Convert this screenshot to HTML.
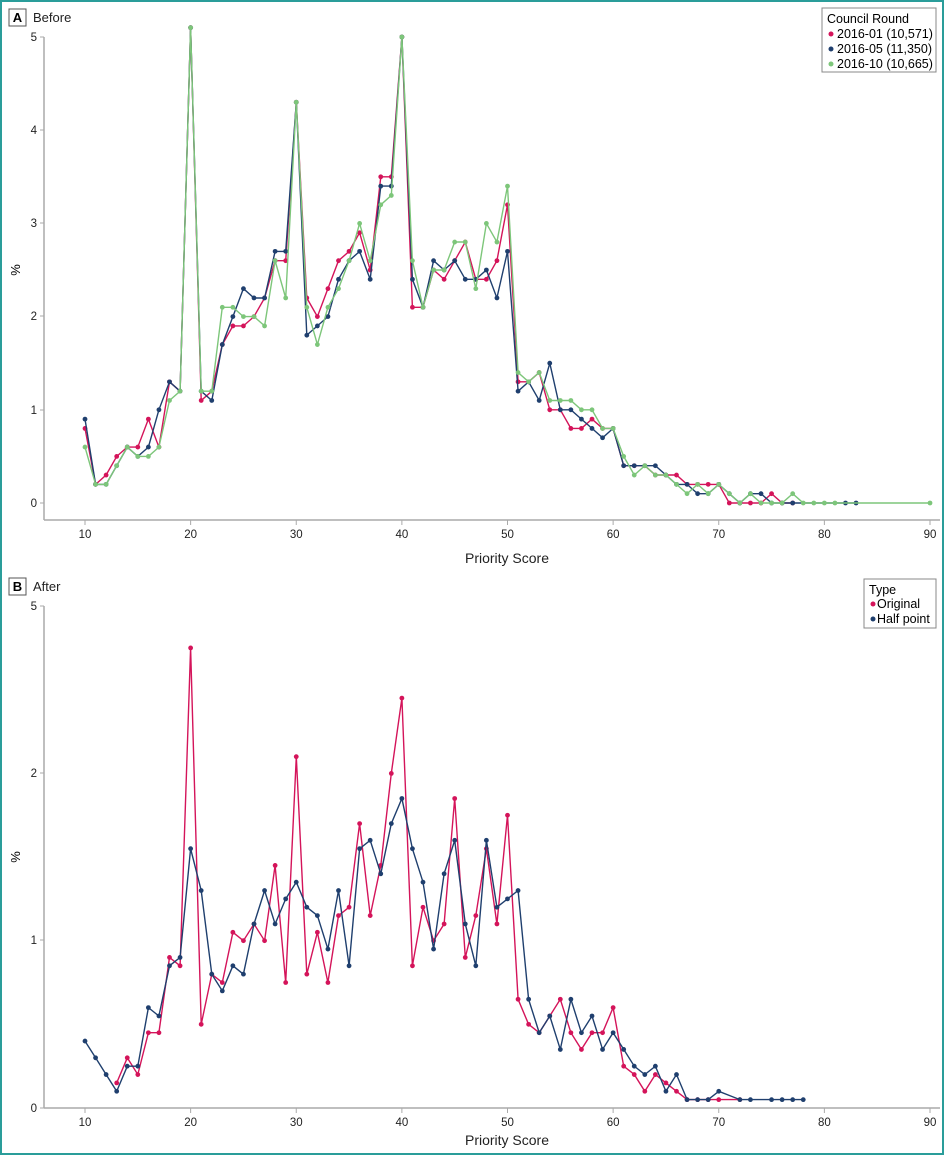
<!DOCTYPE html><html><head><style>
body{margin:0;background:#fff}
svg{display:block;font-family:"Liberation Sans",sans-serif}
</style></head><body>
<svg id="s" width="944" height="1155" viewBox="0 0 944 1155" xmlns="http://www.w3.org/2000/svg">
<rect x="1" y="1" width="942" height="1153" fill="#fff" stroke="#2a9d9a" stroke-width="2"/>
<rect x="9" y="9" width="17" height="17" fill="#fff" stroke="#555"/>
<text x="17.5" y="22" font-size="13" font-weight="bold" text-anchor="middle">A</text>
<text x="33" y="22" font-size="13" fill="#222">Before</text>
<rect x="9" y="578" width="17" height="17" fill="#fff" stroke="#555"/>
<text x="17.5" y="591" font-size="13" font-weight="bold" text-anchor="middle">B</text>
<text x="33" y="591" font-size="13" fill="#222">After</text>
<text x="507" y="563" font-size="14" text-anchor="middle" fill="#222">Priority Score</text>
<text x="507" y="1145" font-size="14" text-anchor="middle" fill="#222">Priority Score</text>
<text transform="translate(20,270) rotate(-90)" font-size="13" text-anchor="middle">%</text>
<text transform="translate(20,857) rotate(-90)" font-size="13" text-anchor="middle">%</text>
<rect x="822" y="8" width="114" height="64" fill="#fff" stroke="#888"/>
<text x="827" y="23" font-size="12.5">Council Round</text>
<circle cx="831" cy="34" r="2.5" fill="#d4145a"/><text x="837" y="38" font-size="12.5">2016-01 (10,571)</text>
<circle cx="831" cy="49" r="2.5" fill="#1f3f6e"/><text x="837" y="53" font-size="12.5">2016-05 (11,350)</text>
<circle cx="831" cy="64" r="2.5" fill="#7dc67a"/><text x="837" y="68" font-size="12.5">2016-10 (10,665)</text>
<rect x="864" y="579" width="72" height="49" fill="#fff" stroke="#888"/>
<text x="869" y="594" font-size="12.5">Type</text>
<circle cx="873" cy="604" r="2.5" fill="#d4145a"/><text x="877" y="608" font-size="12.5">Original</text>
<circle cx="873" cy="619" r="2.5" fill="#1f3f6e"/><text x="877" y="623" font-size="12.5">Half point</text>
<g id="g"></g>
</svg>
<script>
var g=document.getElementById('g'),h='';
function X(s){return 85+(s-10)*10.5625;}
function axes(y0,yTop,yAxis,ticks){
 h+='<line x1="44" y1="'+yTop+'" x2="44" y2="'+yAxis+'" stroke="#aaa" stroke-width="1.5"/>';
 h+='<line x1="44" y1="'+yAxis+'" x2="940" y2="'+yAxis+'" stroke="#aaa" stroke-width="1.5"/>';
 for(var s=10;s<=90;s+=10){h+='<line x1="'+X(s)+'" y1="'+yAxis+'" x2="'+X(s)+'" y2="'+(yAxis+5)+'" stroke="#aaa"/><text x="'+X(s)+'" y="'+(yAxis+18)+'" font-size="11.5" text-anchor="middle" fill="#222">'+s+'</text>';}
 ticks.forEach(function(t){h+='<line x1="40" y1="'+t[0]+'" x2="44" y2="'+t[0]+'" stroke="#aaa"/><text x="37" y="'+(t[0]+4)+'" font-size="11.5" text-anchor="end" fill="#222">'+t[1]+'</text>';});
}
function series(d,col,yf){
 var keys=Object.keys(d).map(Number).sort(function(a,b){return a-b});
 var p=keys.map(function(k){return X(k).toFixed(1)+','+yf(d[k]).toFixed(1)}).join(' ');
 h+='<polyline points="'+p+'" fill="none" stroke="'+col+'" stroke-width="1.4"/>';
 keys.forEach(function(k){h+='<circle cx="'+X(k)+'" cy="'+yf(d[k])+'" r="2.4" fill="'+col+'"/>';});
}
function arr(start,a){var o={};a.forEach(function(v,i){if(v!==null)o[start+i]=v});return o;}
axes(503,37,520,[[503,0],[410,1],[316,2],[223,3],[130,4],[37,5]]);
var ya=function(v){return 503-v*93.2};
var red=arr(10,[0.8,0.2,0.3,0.5,0.6,0.6,0.9,0.6,1.3,1.2,5.1,1.1,1.2,1.7,1.9,1.9,2.0,2.2,2.6,2.6,4.3,2.2,2.0,2.3,2.6,2.7,2.9,2.5,3.5,3.5,5.0,2.1,2.1,2.5,2.4,2.6,2.8,2.4,2.4,2.6,3.2,1.3,1.3,1.4,1.0,1.0,0.8,0.8,0.9,0.8,0.8,0.4,0.4,0.4,0.3,0.3,0.3,0.2,0.2,0.2,0.2,0,0,0,0,0.1,0,0]);
var blue=arr(10,[0.9,0.2,0.2,0.4,0.6,0.5,0.6,1.0,1.3,1.2,5.1,1.2,1.1,1.7,2.0,2.3,2.2,2.2,2.7,2.7,4.3,1.8,1.9,2.0,2.4,2.6,2.7,2.4,3.4,3.4,5.0,2.4,2.1,2.6,2.5,2.6,2.4,2.4,2.5,2.2,2.7,1.2,1.3,1.1,1.5,1.0,1.0,0.9,0.8,0.7,0.8,0.4,0.4,0.4,0.4,0.3,0.2,0.2,0.1,0.1,0.2,0.1,0,0.1,0.1,0,0,0,null,null,null,null,0,0]);
var green=arr(10,[0.6,0.2,0.2,0.4,0.6,0.5,0.5,0.6,1.1,1.2,5.1,1.2,1.2,2.1,2.1,2.0,2.0,1.9,2.6,2.2,4.3,2.1,1.7,2.1,2.3,2.6,3.0,2.6,3.2,3.3,5.0,2.6,2.1,2.5,2.5,2.8,2.8,2.3,3.0,2.8,3.4,1.4,1.3,1.4,1.1,1.1,1.1,1.0,1.0,0.8,0.8,0.5,0.3,0.4,0.3,0.3,0.2,0.1,0.2,0.1,0.2,0.1,0,0.1,0,0,0,0.1,0,0,0,0]);green[90]=0;
series(red,'#d4145a',ya);series(blue,'#1f3f6e',ya);series(green,'#7dc67a',ya);
axes(1108,606,1108,[[1108,0],[940,1],[773,2],[606,5]]);
var yb=function(v){return 1108-v*167.3};
var r2=arr(13,[0.15,0.3,0.2,0.45,0.45,0.9,0.85,2.75,0.5,0.8,0.75,1.05,1.0,1.1,1.0,1.45,0.75,2.1,0.8,1.05,0.75,1.15,1.2,1.7,1.15,1.45,2.0,2.45,0.85,1.2,1.0,1.1,1.85,0.9,1.15,1.55,1.1,1.75,0.65,0.5,0.45,0.55,0.65,0.45,0.35,0.45,0.45,0.6,0.25,0.2,0.1,0.2,0.15,0.1,0.05,0.05,0.05,0.05,null,0.05]);
var b2=arr(10,[0.4,0.3,0.2,0.1,0.25,0.25,0.6,0.55,0.85,0.9,1.55,1.3,0.8,0.7,0.85,0.8,1.1,1.3,1.1,1.25,1.35,1.2,1.15,0.95,1.3,0.85,1.55,1.6,1.4,1.7,1.85,1.55,1.35,0.95,1.4,1.6,1.1,0.85,1.6,1.2,1.25,1.3,0.65,0.45,0.55,0.35,0.65,0.45,0.55,0.35,0.45,0.35,0.25,0.2,0.25,0.1,0.2,0.05,0.05,0.05,0.1,null,0.05,0.05,null,0.05,0.05,0.05,0.05]);
series(r2,'#d4145a',yb);series(b2,'#1f3f6e',yb);
g.innerHTML=h;
</script>
</body></html>
